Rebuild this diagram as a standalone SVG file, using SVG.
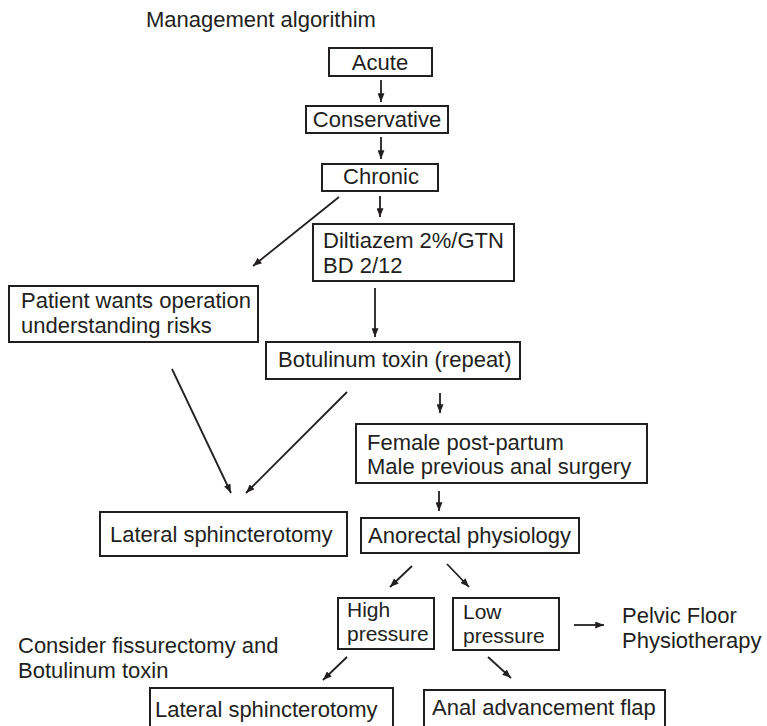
<svg xmlns="http://www.w3.org/2000/svg" width="767" height="726" viewBox="0 0 767 726">
<style>
.box{fill:#fff;stroke:#231f20;stroke-width:2}
text{font-family:"Liberation Sans",Arial,sans-serif;font-size:22px;fill:#231f20}
.c{text-anchor:middle}
.s{font-size:21px}
.con line{stroke:#231f20;stroke-width:1.8;marker-end:url(#ah)}
</style>
<defs>
<marker id="ah" viewBox="0 0 10 8" refX="10" refY="4" markerWidth="9" markerHeight="7" markerUnits="userSpaceOnUse" orient="auto">
<path d="M0,0 L10,4 L0,8 z" fill="#231f20"/>
</marker>
</defs>
<rect width="767" height="726" fill="#fff"/>
<text x="146" y="27">Management algorithim</text>
<g id="acute"><rect class="box" x="329" y="48" width="103" height="28"/><text class="c" x="380" y="70">Acute</text></g>
<g id="conservative"><rect class="box" x="306" y="106" width="142" height="27"/><text class="c" x="377" y="127">Conservative</text></g>
<g id="chronic"><rect class="box" x="322" y="164" width="116" height="27"/><text class="c" x="381" y="184">Chronic</text></g>
<g id="diltiazem"><rect class="box" x="313" y="224" width="201" height="57"/><text x="323" y="248">Diltiazem 2%/GTN</text><text x="323" y="273">BD 2/12</text></g>
<g id="patient"><rect class="box" x="9" y="286" width="249" height="56"/><text x="21" y="308">Patient wants operation</text><text x="21" y="333">understanding risks</text></g>
<g id="botulinum"><rect class="box" x="266" y="342" width="254" height="37"/><text x="278" y="367">Botulinum toxin (repeat)</text></g>
<g id="female"><rect class="box" x="356" y="424" width="291" height="59"/><text x="367" y="450">Female post-partum</text><text x="367" y="474">Male previous anal surgery</text></g>
<g id="lateral1"><rect class="box" x="100" y="512" width="247" height="44"/><text x="110" y="542">Lateral sphincterotomy</text></g>
<g id="anorectal"><rect class="box" x="361" y="518" width="218" height="35"/><text x="368" y="543">Anorectal physiology</text></g>
<g id="high"><rect class="box" x="338" y="598" width="96" height="51"/><text class="s" x="347" y="617">High</text><text class="s" x="347" y="641">pressure</text></g>
<g id="low"><rect class="box" x="453" y="598" width="106" height="52"/><text class="s" x="463" y="619">Low</text><text class="s" x="463" y="643">pressure</text></g>
<g id="pelvic"><text x="622" y="623">Pelvic Floor</text><text x="622" y="648">Physiotherapy</text></g>
<g id="consider"><text x="18" y="653">Consider fissurectomy and</text><text x="18" y="678">Botulinum toxin</text></g>
<g id="lateral2"><rect class="box" x="150" y="688" width="243" height="50"/><text x="155" y="717">Lateral sphincterotomy</text></g>
<g id="anal"><rect class="box" x="424" y="690" width="241" height="48"/><text x="432" y="715">Anal advancement flap</text></g>
<g class="con" id="connectors">
<line x1="381" y1="80" x2="381" y2="102"/>
<line x1="381" y1="137" x2="381" y2="159"/>
<line x1="380" y1="196" x2="380" y2="217"/>
<line x1="339" y1="197" x2="253" y2="266"/>
<line x1="375" y1="288" x2="375" y2="337"/>
<line x1="172" y1="369" x2="231" y2="493"/>
<line x1="347" y1="392" x2="246" y2="493"/>
<line x1="440" y1="393" x2="440" y2="413"/>
<line x1="439" y1="491" x2="439" y2="511"/>
<line x1="412" y1="566" x2="390" y2="587"/>
<line x1="447" y1="564" x2="469" y2="587"/>
<line x1="574" y1="625" x2="604" y2="625"/>
<line x1="347" y1="657" x2="323" y2="680"/>
<line x1="488" y1="657" x2="511" y2="678"/>
</g>
</svg>
